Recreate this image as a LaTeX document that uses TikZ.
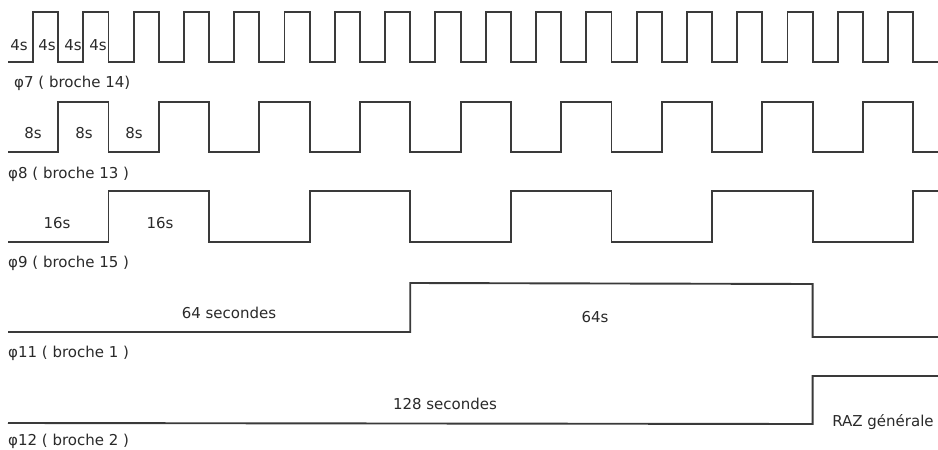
\documentclass[tikz,border=0pt]{standalone}
\usepackage{fontspec}
\setmainfont{DejaVu Sans}
\definecolor{ink}{HTML}{3A3A3A}
\definecolor{txt}{HTML}{2A2A2A}
\begin{document}
\begin{tikzpicture}[x=1pt,y=-1pt,
  wave/.style={draw=ink,line width=1.9pt,line join=miter},
  lbl/.style={text=txt,font=\fontsize{15}{17}\selectfont,inner sep=0pt},
  sig/.style={lbl,anchor=west}]
\useasboundingbox[fill=white] (0,0) rectangle (938,450);
\def\xo{33}
\def\hu{25.15}
% phi7 : low 62, high 12
\draw[wave] (8,62)
  foreach \i in {0,...,17} {
    -- ({\xo+\hu*(2*\i)},62) -- ({\xo+\hu*(2*\i)},12)
    -- ({\xo+\hu*(2*\i+1)},12) -- ({\xo+\hu*(2*\i+1)},62) }
  -- (938,62);
% phi8 : low 152, high 102
\draw[wave] (8,152)
  foreach \i in {0,...,8} {
    -- ({\xo+\hu*(4*\i+1)},152) -- ({\xo+\hu*(4*\i+1)},102)
    -- ({\xo+\hu*(4*\i+3)},102) -- ({\xo+\hu*(4*\i+3)},152) }
  -- (938,152);
% phi9 : low 242, high 191
\draw[wave] (8,242)
  foreach \i in {0,...,3} {
    -- ({\xo+\hu*(8*\i+3)},242) -- ({\xo+\hu*(8*\i+3)},191)
    -- ({\xo+\hu*(8*\i+7)},191) -- ({\xo+\hu*(8*\i+7)},242) }
  -- ({\xo+\hu*35},242) -- ({\xo+\hu*35},191) -- (938,191);
% phi11
\draw[wave] (8,332) -- ({\xo+\hu*15},332) -- ({\xo+\hu*15},283)
  -- ({\xo+\hu*31},284) -- ({\xo+\hu*31},337) -- (938,337);
% phi12
\draw[wave] (8,423) -- ({\xo+\hu*31},424) -- ({\xo+\hu*31},376) -- (938,376);

% labels
\node[lbl] (t4a) at (19,45) {4s};
\node[lbl] (t4b) at (47,45) {4s};
\node[lbl] (t4c) at (73,45) {4s};
\node[lbl] (t4d) at (98,45) {4s};
\node[sig] (p7) at (14,83) {φ7 ( broche 14)};

\node[lbl] (t8a) at (33,133) {8s};
\node[lbl] (t8b) at (84,133) {8s};
\node[lbl] (t8c) at (134,133) {8s};
\node[sig] (p8) at (8,174) {φ8 ( broche 13 )};

\node[lbl] (t16a) at (57,223) {16s};
\node[lbl] (t16b) at (160,223) {16s};
\node[sig] (p9) at (8,263) {φ9 ( broche 15 )};

\node[lbl] (t64a) at (229,313) {64 secondes};
\node[lbl] (t64b) at (595,317) {64s};
\node[sig] (p11) at (8,353) {φ11 ( broche 1 )};

\node[lbl] (t128) at (445,404) {128 secondes};
\node[lbl] (raz) at (883,422) {RAZ générale};
\node[sig] (p12) at (8,441.5) {φ12 ( broche 2 )};
\end{tikzpicture}
\end{document}
